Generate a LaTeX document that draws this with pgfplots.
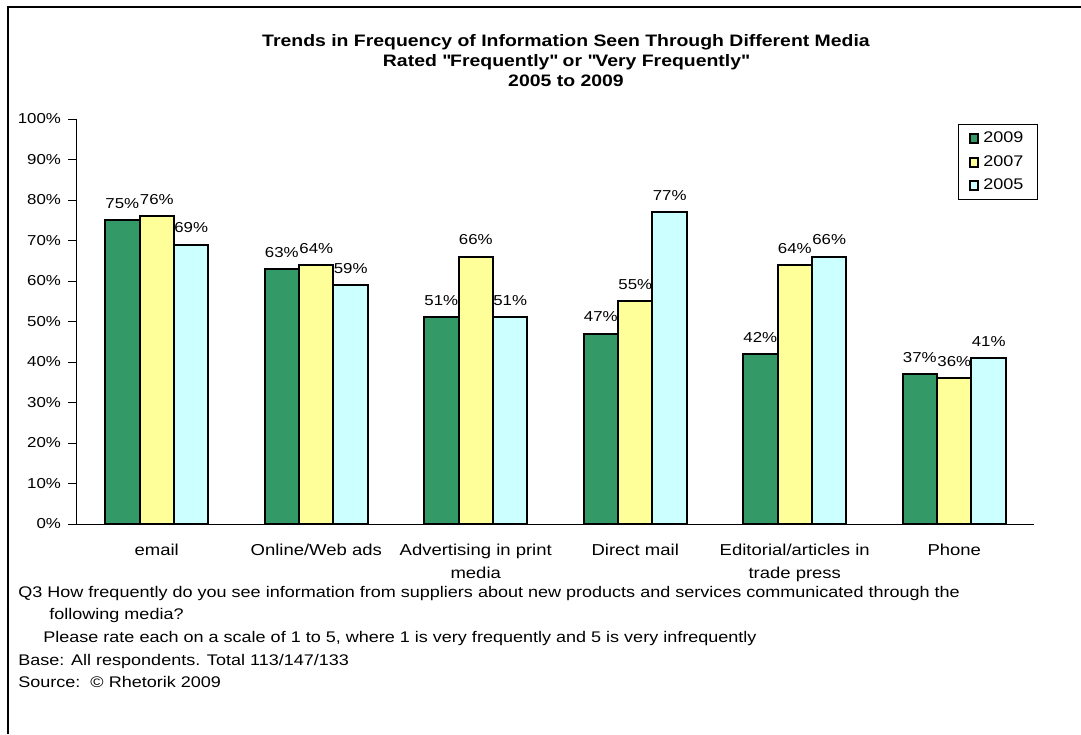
\documentclass[border=0pt]{standalone}
\usepackage{fontspec}
\setmainfont[FakeStretch=1.17]{Liberation Sans}
\usepackage{pgfplots}
\pgfplotsset{compat=1.18}
\definecolor{c2009}{HTML}{339966}
\definecolor{c2007}{HTML}{FFFF99}
\definecolor{c2005}{HTML}{CCFFFF}
\newcommand{\cf}{\fontsize{7.2}{8.6}\selectfont}
\newcommand{\ff}{\fontsize{7.7}{9}\selectfont}
\newcommand{\xf}{\fontsize{7.9}{11.5}\selectfont}
\newcommand{\tf}{\fontsize{8.3}{9.2}\selectfont}
\begin{document}
\begin{tikzpicture}
\path[use as bounding box] (0pt,0pt) rectangle (540.5pt,-367pt);
\draw[line width=0.75pt] (4pt,-367pt) -- (4pt,-3.5pt) -- (540.5pt,-3.5pt);
\node[align=center, font=\tf\bfseries, anchor=north, inner sep=0pt, text depth=0pt] at (283pt,-17pt)
  {Trends in Frequency of Information Seen Through Different Media\\[0.8pt]
   Rated \textquotedbl Frequently\textquotedbl\ or \textquotedbl Very Frequently\textquotedbl\\[0.8pt]
   2005 to 2009};
\begin{axis}[
  at={(38.5pt,-262pt)}, anchor=south west,
  scale only axis, width=478.5pt, height=202.5pt,
  xmin=-0.5, xmax=5.5, ymin=0, ymax=100,
  axis x line=bottom, axis y line=left,
  axis line style={-, line width=0.5pt},
  ybar=0pt, bar width=17.2pt,
  xtick={0,1,2,3,4,5},
  xticklabels={email, Online/Web ads, {Advertising in print\\media}, Direct mail, {Editorial/articles in\\trade press}, Phone},
  x tick label style={align=center, font=\xf, yshift=-2pt},
  major x tick style={draw=none},
  extra x ticks={-0.5,0.5,1.5,2.5,3.5,4.5,5.5},
  extra x tick labels={},
  extra x tick style={major tick length=6pt, tick align=outside, tick style={draw=black, line width=0.5pt}},
  ytick={0,10,...,100},
  yticklabels={0\%,10\%,20\%,30\%,40\%,50\%,60\%,70\%,80\%,90\%,100\%},
  y tick label style={font=\cf},
  ytick align=outside, major tick length=4.5pt,
  tick style={draw=black, line width=0.5pt},
  /pgf/number format/assume math mode=true,
  nodes near coords={\pgfmathprintnumber{\pgfplotspointmeta}\%},
  every node near coord/.append style={font=\cf, yshift=2pt},
  legend style={at={(rel axis cs:1,1)}, anchor=north east, xshift=2pt, yshift=-2.5pt,
    draw=black, line width=0.5pt, font=\ff, inner xsep=5pt, inner ysep=1.5pt, row sep=1pt},
  legend cell align=left,
  legend image code/.code={\draw[#1, draw=black, line width=1pt] (0pt,-2.3pt) rectangle (4.4pt,2.3pt);},
]
\addplot[fill=c2009, draw=black, line width=1pt] coordinates {(0,75) (1,63) (2,51) (3,47) (4,42) (5,37)};
\addplot[fill=c2007, draw=black, line width=1pt] coordinates {(0,76) (1,64) (2,66) (3,55) (4,64) (5,36)};
\addplot[fill=c2005, draw=black, line width=1pt] coordinates {(0,69) (1,59) (2,51) (3,77) (4,66) (5,41)};
\legend{2009,2007,2005}
\end{axis}
\node[anchor=base west, inner sep=0pt, font=\ff] at (9pt,-298.5pt) {Q3 How frequently do you see information from suppliers about new products and services communicated through the};
\node[anchor=base west, inner sep=0pt, font=\ff] at (24.5pt,-309.5pt) {following media?};
\node[anchor=base west, inner sep=0pt, font=\ff] at (21.5pt,-321pt) {Please rate each on a scale of 1 to 5, where 1 is very frequently and 5 is very infrequently};
\node[anchor=base west, inner sep=0pt, font=\ff] at (9pt,-332.5pt) {Base: All respondents. Total 113/147/133};
\node[anchor=base west, inner sep=0pt, font=\ff] at (9pt,-343.5pt) {Source:\ \ \textcopyright\ Rhetorik 2009};
\end{tikzpicture}
\end{document}
